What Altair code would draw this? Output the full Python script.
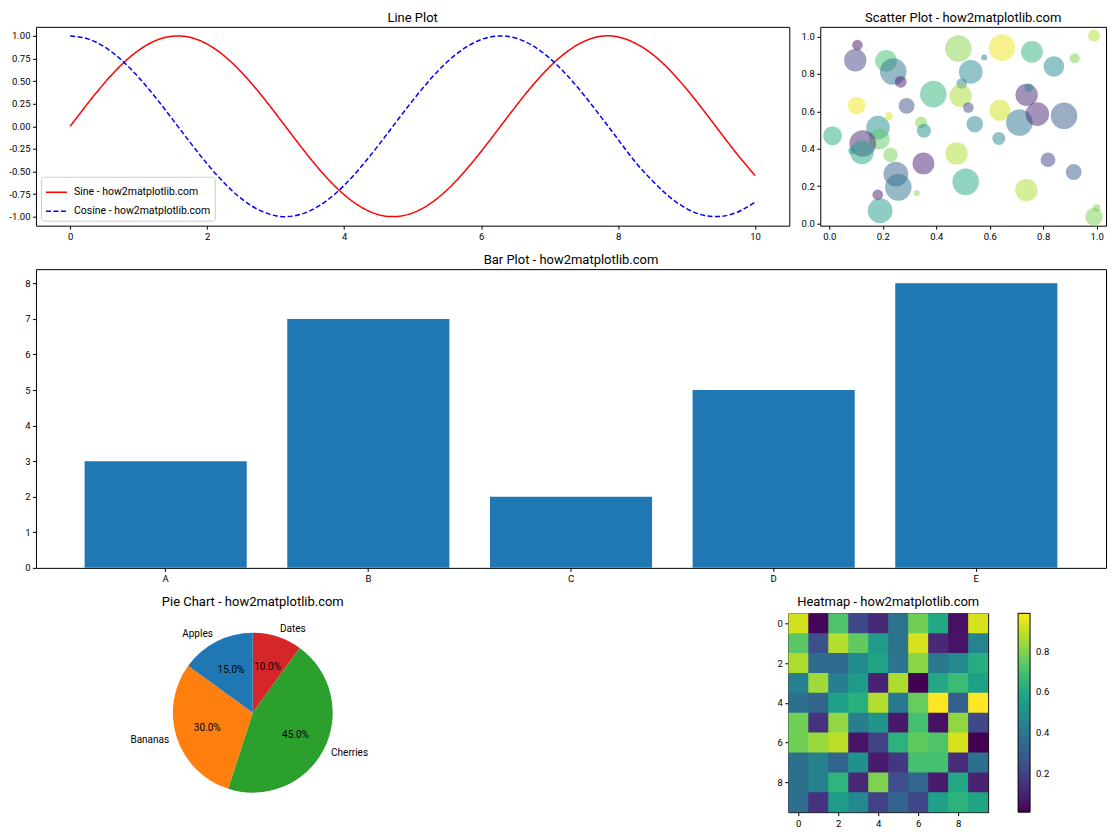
import altair as alt
import pandas as pd
import numpy as np

FONT = "Roboto"

# ---------------- Line plot data ----------------
line_x = [0, 0.25, 0.5, 0.75, 1, 1.25, 1.5, 1.75, 2, 2.25, 2.5, 2.75, 3, 3.25, 3.5, 3.75,
          4, 4.25, 4.5, 4.75, 5, 5.25, 5.5, 5.75, 6, 6.25, 6.5, 6.75, 7, 7.25, 7.5, 7.75,
          8, 8.25, 8.5, 8.75, 9, 9.25, 9.5, 9.75, 10]
sine_y = [0, 0.247, 0.479, 0.682, 0.841, 0.949, 0.997, 0.984, 0.909, 0.778, 0.598, 0.382,
          0.141, -0.108, -0.351, -0.572, -0.757, -0.895, -0.978, -0.999, -0.959, -0.859,
          -0.706, -0.508, -0.279, -0.033, 0.215, 0.451, 0.657, 0.823, 0.938, 0.996, 0.989,
          0.919, 0.798, 0.625, 0.412, 0.174, -0.075, -0.319, -0.544]
cosine_y = [1, 0.969, 0.878, 0.732, 0.540, 0.315, 0.071, -0.178, -0.416, -0.628, -0.801,
            -0.924, -0.990, -0.994, -0.936, -0.820, -0.654, -0.446, -0.211, 0.038, 0.284,
            0.512, 0.709, 0.861, 0.960, 0.999, 0.977, 0.893, 0.754, 0.568, 0.347, 0.104,
            -0.146, -0.394, -0.602, -0.781, -0.911, -0.985, -0.997, -0.948, -0.839]
SINE = "Sine - how2matplotlib.com"
COS = "Cosine - how2matplotlib.com"
line_x_ticks = [0, 2, 4, 6, 8, 10]
line_y_ticks = [-1.0, -0.75, -0.5, -0.25, 0.0, 0.25, 0.5, 0.75, 1.0]

# ---------------- Scatter data ----------------
scatter_x = [0.105, 0.097, 0.212, 0.239, 0.267, 0.102, 0.223, 0.289, 0.012, 0.182,
             0.187, 0.125, 0.122, 0.084, 0.229, 0.343, 0.354, 0.389, 0.352, 0.249,
             0.258, 0.327, 0.181, 0.190, 0.483, 0.579, 0.529, 0.495, 0.491, 0.520,
             0.544, 0.476, 0.510, 0.646, 0.758, 0.840, 0.918, 0.990, 0.638, 0.634,
             0.711, 0.738, 0.746, 0.778, 0.878, 0.818, 0.914, 0.737, 0.990, 1.000]
scatter_y = [0.954, 0.873, 0.870, 0.813, 0.758, 0.631, 0.574, 0.629, 0.469, 0.513,
             0.451, 0.428, 0.380, 0.389, 0.367, 0.540, 0.496, 0.692, 0.321, 0.264,
             0.193, 0.162, 0.153, 0.068, 0.936, 0.888, 0.811, 0.749, 0.683, 0.620,
             0.531, 0.374, 0.223, 0.941, 0.918, 0.840, 0.884, 1.005, 0.606, 0.455,
             0.540, 0.688, 0.727, 0.585, 0.576, 0.340, 0.275, 0.178, 0.036, 0.082]
scatter_size = [113, 504, 478, 707, 140, 314, 59, 254, 357, 558,
                428, 707, 558, 50, 218, 140, 201, 707, 478, 616,
                707, 35, 113, 616, 707, 35, 558, 113, 504, 113,
                274, 504, 707, 707, 478, 428, 101, 140, 452, 169,
                707, 504, 68, 558, 707, 218, 254, 504, 314, 59]
scatter_color = [0.05, 0.2, 0.7, 0.38, 0.08, 0.98, 0.95, 0.25, 0.62, 0.48,
                 0.75, 0.1, 0.58, 0.55, 0.8, 0.8, 0.48, 0.65, 0.08, 0.3,
                 0.38, 0.82, 0.08, 0.55, 0.82, 0.42, 0.47, 0.45, 0.87, 0.2,
                 0.45, 0.88, 0.6, 0.97, 0.65, 0.47, 0.8, 0.88, 0.93, 0.45,
                 0.38, 0.1, 0.45, 0.1, 0.28, 0.2, 0.28, 0.88, 0.8, 0.8]
scatter_ticks = [0.0, 0.2, 0.4, 0.6, 0.8, 1.0]

# ---------------- Bar data ----------------
bar_categories = ["A", "B", "C", "D", "E"]
bar_values = [3, 7, 2, 5, 8]
bar_ticks = [0, 1, 2, 3, 4, 5, 6, 7, 8]

# ---------------- Pie data ----------------
pie_labels = ["Apples", "Bananas", "Cherries", "Dates"]
pie_sizes = [15, 30, 45, 10]
pie_colors = ["#1f77b4", "#ff7f0e", "#2ca02c", "#d62728"]

# ---------------- Heatmap data ----------------
heat_values = [
    [0.92, 0.02, 0.72, 0.22, 0.12, 0.38, 0.78, 0.60, 0.05, 0.93],
    [0.74, 0.25, 0.88, 0.75, 0.55, 0.38, 0.93, 0.12, 0.06, 0.45],
    [0.87, 0.35, 0.35, 0.48, 0.58, 0.38, 0.82, 0.40, 0.47, 0.62],
    [0.43, 0.85, 0.42, 0.55, 0.10, 0.87, 0.01, 0.60, 0.68, 0.57],
    [0.37, 0.32, 0.57, 0.63, 0.88, 0.40, 0.76, 0.99, 0.30, 0.99],
    [0.78, 0.15, 0.83, 0.42, 0.52, 0.07, 0.70, 0.05, 0.83, 0.22],
    [0.78, 0.84, 0.89, 0.06, 0.20, 0.64, 0.75, 0.72, 0.93, 0.01],
    [0.37, 0.43, 0.32, 0.50, 0.08, 0.16, 0.70, 0.70, 0.13, 0.37],
    [0.37, 0.44, 0.65, 0.12, 0.80, 0.24, 0.33, 0.08, 0.60, 0.10],
    [0.36, 0.15, 0.55, 0.47, 0.20, 0.32, 0.22, 0.57, 0.64, 0.58],
]
heat_ticks = [0, 2, 4, 6, 8]
colorbar_ticks = [0.2, 0.4, 0.6, 0.8]

# ======================================================
YEXT = 27
TICK_FS = 9.5

n = len(line_x)
line_df = pd.DataFrame({
    "x": line_x + line_x,
    "y": sine_y + cosine_y,
    "series": [SINE] * n + [COS] * n,
})
legend_kw = dict(title=None, orient="bottom-left", offset=5, strokeColor="#cccccc",
                 fillColor="white", padding=4, cornerRadius=3, labelFontSize=10.5,
                 symbolType="M-1,0L1,0", symbolSize=441, symbolStrokeWidth=1.5,
                 labelLimit=400, rowPadding=2, labelColor="black", labelOffset=6)
line_chart = alt.Chart(line_df, title=alt.Title("Line Plot")).mark_line(
    strokeWidth=1.5, interpolate="natural"
).encode(
    x=alt.X("x:Q", scale=alt.Scale(domain=[-0.5, 10.5], nice=False, zero=False),
            axis=alt.Axis(values=line_x_ticks, title=None)),
    y=alt.Y("y:Q", scale=alt.Scale(domain=[-1.1, 1.1], nice=False, zero=False),
            axis=alt.Axis(values=line_y_ticks, title=None, minExtent=YEXT,
                          labelExpr="replace(format(datum.value, '.2f'), '\u2212', '-')")),
    color=alt.Color("series:N", scale=alt.Scale(domain=[SINE, COS], range=["red", "blue"]),
                    legend=alt.Legend(**legend_kw)),
    strokeDash=alt.StrokeDash("series:N", scale=alt.Scale(domain=[SINE, COS], range=[[1, 0], [5, 2.5]]),
                              legend=alt.Legend(**legend_kw)),
).properties(width=754, height=199)

scatter_df = pd.DataFrame({"x": scatter_x, "y": scatter_y, "s": scatter_size, "c": scatter_color})
scatter_chart = alt.Chart(scatter_df, title=alt.Title("Scatter Plot - how2matplotlib.com")).mark_circle(
    opacity=0.5
).encode(
    x=alt.X("x:Q", scale=alt.Scale(domain=[-0.034, 1.035], nice=False, zero=False),
            axis=alt.Axis(values=scatter_ticks, format=".1f", title=None)),
    y=alt.Y("y:Q", scale=alt.Scale(domain=[-0.012, 1.052], nice=False, zero=False),
            axis=alt.Axis(values=scatter_ticks, format=".1f", title=None)),
    size=alt.Size("s:Q", scale=None, legend=None),
    color=alt.Color("c:Q", scale=alt.Scale(scheme="viridis", domain=[0, 1]), legend=None),
).properties(width=286, height=199)

bar_df = pd.DataFrame({"cat": bar_categories, "val": bar_values})
bar_chart = alt.Chart(bar_df, title=alt.Title("Bar Plot - how2matplotlib.com")).mark_bar(
    color="#1f77b4"
).encode(
    x=alt.X("cat:N", scale=alt.Scale(paddingInner=0.2, paddingOuter=0.24),
            axis=alt.Axis(labelAngle=0, title=None)),
    y=alt.Y("val:Q", scale=alt.Scale(domain=[0, 8.4], nice=False),
            axis=alt.Axis(values=bar_ticks, title=None, minExtent=YEXT)),
).properties(width=1071, height=299)

# pie: matplotlib draws counter-clockwise from top; vega draws clockwise -> reverse order
pie_df = pd.DataFrame({"label": pie_labels, "size": pie_sizes, "color": pie_colors})
pie_df = pie_df.iloc[::-1].reset_index(drop=True)
total = pie_df["size"].sum()
pie_df["end"] = pie_df["size"].cumsum() / total * 100
pie_df["start"] = pie_df["end"] - pie_df["size"] / total * 100
pie_df["mid"] = (pie_df["start"] + pie_df["end"]) / 2
pie_df["pct"] = (pie_df["size"] / total * 100).map(lambda v: f"{v:.1f}%")
pie_df["side"] = np.where(pie_df["mid"] < 50, "right", "left")

theta_scale = alt.Scale(domain=[0, 100], range=[0, 2 * np.pi])
pie_base = alt.Chart(pie_df)
arcs = pie_base.mark_arc(radius=80).encode(
    theta=alt.Theta("start:Q", scale=theta_scale),
    theta2="end:Q",
    fill=alt.Fill("color:N", scale=None),
)
labels_right = pie_base.transform_filter(alt.datum.side == "right").mark_text(
    radius=88, align="left", baseline="middle", fontSize=10, color="black"
).encode(theta=alt.Theta("mid:Q", scale=theta_scale), text="label:N")
labels_left = pie_base.transform_filter(alt.datum.side == "left").mark_text(
    radius=88, align="right", baseline="middle", fontSize=10, color="black"
).encode(theta=alt.Theta("mid:Q", scale=theta_scale), text="label:N")
pcts = pie_base.mark_text(radius=48, align="center", baseline="middle", fontSize=10, color="black").encode(
    theta=alt.Theta("mid:Q", scale=theta_scale), text="pct:N")
pie_chart = alt.layer(arcs, labels_right, labels_left, pcts,
                      title=alt.Title("Pie Chart - how2matplotlib.com", offset=4.5)).properties(
    width=434, height=199, view=alt.ViewBackground(stroke=None))

heat_rows = []
for r, row in enumerate(heat_values):
    for c, v in enumerate(row):
        heat_rows.append({"row": r, "col": c, "value": v})
heat_df = pd.DataFrame(heat_rows)
hscale = alt.Scale(domain=[-0.5, 9.5], nice=False, zero=False)
cscale = alt.Scale(scheme="viridis", zero=False, nice=False)
# cells overlap their right/lower neighbour very slightly so no hairline seams show
heat_chart = alt.Chart(heat_df, title=alt.Title("Heatmap - how2matplotlib.com", offset=4.5)).transform_calculate(
    x0="datum.col - 0.5", x1="datum.col + 0.56", y0="datum.row - 0.5", y1="datum.row + 0.56"
).mark_rect(clip=True).encode(
    x=alt.X("x0:Q", scale=hscale, axis=alt.Axis(values=heat_ticks, title=None)),
    x2="x1:Q",
    y=alt.Y("y0:Q", scale=alt.Scale(domain=[-0.5, 9.5], nice=False, zero=False, reverse=True),
            axis=alt.Axis(values=heat_ticks, title=None)),
    y2="y1:Q",
    color=alt.Color("value:Q", scale=cscale,
                    legend=alt.Legend(title=None, orient="right", offset=30, direction="vertical",
                                      type="gradient",
                                      gradientLength=199, gradientThickness=12,
                                      gradientStrokeColor="black", gradientStrokeWidth=1,
                                      values=colorbar_ticks, format=".1f", labelFontSize=TICK_FS,
                                      labelColor="black", labelOffset=6, padding=0)),
).properties(width=200, height=199)

indep = dict(color="independent", size="independent", strokeDash="independent",
             fill="independent", theta="independent")

row1 = alt.hconcat(line_chart, scatter_chart, spacing=31, bounds="flush").resolve_scale(**indep).resolve_legend(
    color="independent")
row3 = alt.hconcat(pie_chart, heat_chart, spacing=319, bounds="flush").resolve_scale(**indep).resolve_legend(
    color="independent")

chart = alt.vconcat(row1, bar_chart, row3, spacing=11.5).resolve_scale(**indep).resolve_legend(
    color="independent"
).properties(
    padding={"left": 0, "top": 2.5, "right": 5, "bottom": 5}
).configure(
    font=FONT
).configure_view(
    stroke="black", strokeWidth=1
).configure_axis(
    grid=False, domain=False, tickColor="black", tickSize=3.5, tickWidth=1,
    labelColor="black", labelFontSize=TICK_FS, labelPadding=2.5, labelFont=FONT
).configure_title(
    fontSize=13, fontWeight="normal", color="black", offset=2, anchor="middle", font=FONT
).configure_legend(labelFont=FONT)

chart.save("out.html", embed_options={"renderer": "svg", "actions": False})
